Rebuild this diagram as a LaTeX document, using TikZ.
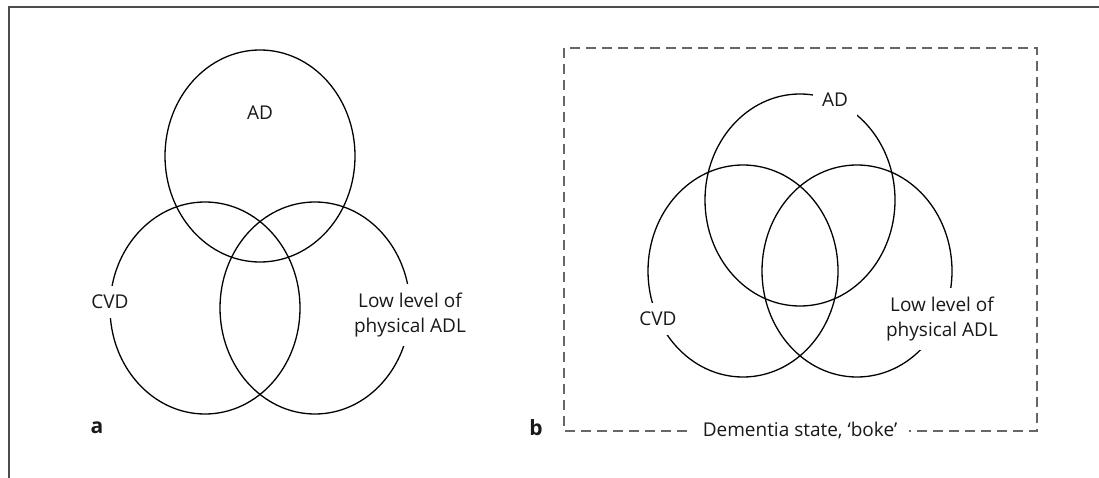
\documentclass[tikz,border=0pt]{standalone}
\usepackage{fontspec}
\setmainfont{Open Sans}
\usetikzlibrary{shapes.geometric}
\begin{document}
\begin{tikzpicture}[x=1pt,y=-1pt,
  venn/.style={ellipse, draw=black, line width=1.3pt, minimum width=190pt, minimum height=212pt, inner sep=0pt, outer sep=0pt},
  lbl/.style={font=\fontsize{19}{25}\selectfont, text=black!90, align=center},
  cutlbl/.style={lbl, fill=white, inner sep=9pt},
  panel/.style={font=\fontsize{21}{24}\selectfont\bfseries, text=black!90},
  frameline/.style={draw=black!70, line width=1.5pt},
  dashbox/.style={draw=black!60, line width=1.3pt, dash pattern=on 10pt off 6pt}]
\useasboundingbox (0,0) rectangle (1099,478);
\draw[frameline] (9,478) -- (9,7) -- (1099,7);
% panel a
\node[venn] (aad) at (260,156) {};
\node[venn] (acvd) at (205,308) {};
\node[venn] (alow) at (315,308) {};
\node[lbl] (aadl) at (260,113) {AD};
\node[cutlbl] (acvdl) at (110,302) {CVD};
\node[cutlbl] (alowl) at (410,315) {Low level of\\physical ADL};
\node[panel] (pa) at (97,428) {a};
% panel b
\draw[dashbox] (564,48) rectangle (1037,431);
\node[venn] (bad) at (800,200) {};
\node[venn] (bcvd) at (743,271) {};
\node[venn] (blow) at (857,271) {};
\node[cutlbl] (badl) at (835,100) {AD};
\node[cutlbl] (bcvdl) at (658,319) {CVD};
\node[cutlbl] (blowl) at (942,319) {Low level of\\physical ADL};
\node[lbl, fill=white, inner xsep=12pt] (dem) at (800,431) {Dementia state, ‘boke’};
\node[panel] (pb) at (536,428) {b};
\end{tikzpicture}
\end{document}
